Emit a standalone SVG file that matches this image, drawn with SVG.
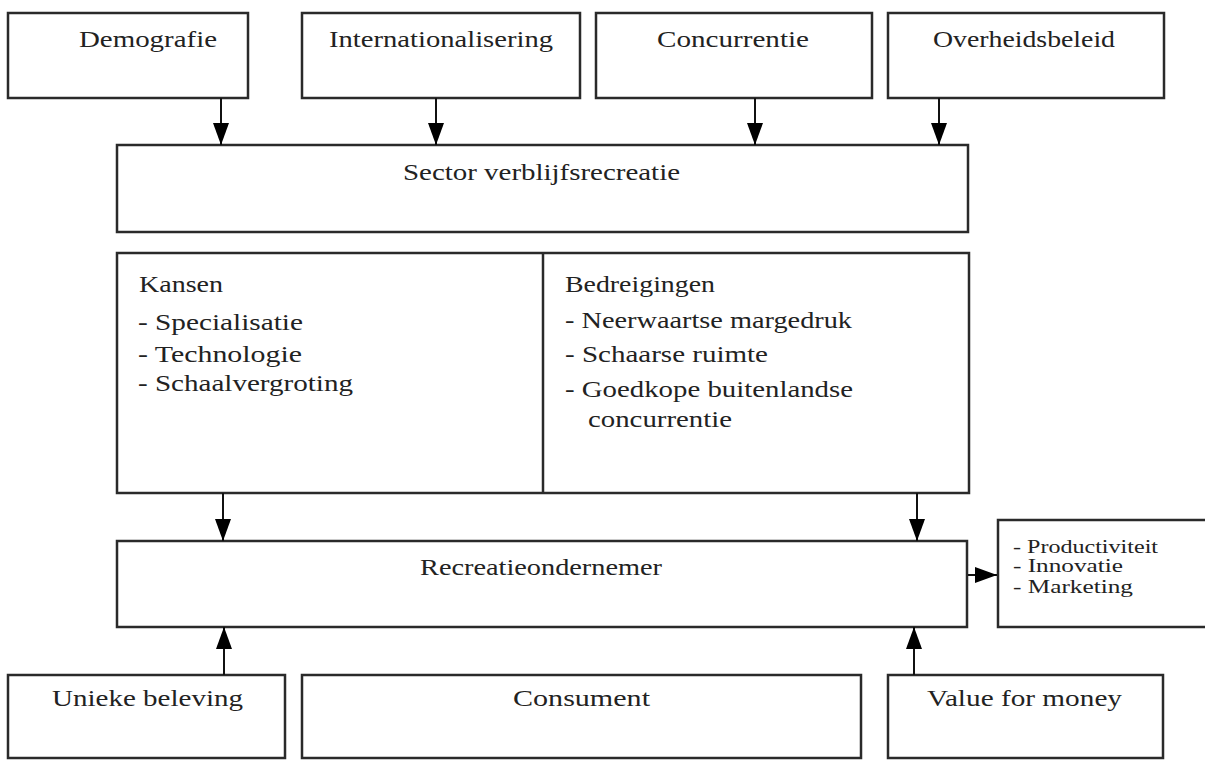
<svg xmlns="http://www.w3.org/2000/svg" width="1205" height="760" viewBox="0 0 1205 760">
<style>
.box{fill:#fff;stroke:#2a2a2a;stroke-width:2.5}
.t{font-family:"Liberation Serif","Times New Roman",serif;font-size:24px;fill:#222}
.s{font-family:"Liberation Serif","Times New Roman",serif;font-size:18px;fill:#222}
.c{stroke:#111;stroke-width:2;fill:none;marker-end:url(#ah)}
</style>
<defs>
<marker id="ah" viewBox="0 0 22 16" refX="22" refY="8" markerWidth="22" markerHeight="16" markerUnits="userSpaceOnUse" orient="auto">
<path d="M0,0 L22,8 L0,16 z" fill="#000"/>
</marker>
</defs>
<rect width="1205" height="760" fill="#fff"/>
<g id="demografie"><rect class="box" x="8" y="13" width="240" height="85"/><text class="t" x="79" y="47" textLength="138" lengthAdjust="spacingAndGlyphs">Demografie</text></g>
<g id="internationalisering"><rect class="box" x="302" y="13" width="278" height="85"/><text class="t" x="329" y="47" textLength="224" lengthAdjust="spacingAndGlyphs">Internationalisering</text></g>
<g id="concurrentie"><rect class="box" x="596" y="13" width="276" height="85"/><text class="t" x="657" y="47" textLength="152" lengthAdjust="spacingAndGlyphs">Concurrentie</text></g>
<g id="overheidsbeleid"><rect class="box" x="888" y="13" width="276" height="85"/><text class="t" x="933" y="47" textLength="182" lengthAdjust="spacingAndGlyphs">Overheidsbeleid</text></g>
<g id="sector"><rect class="box" x="117" y="145" width="851" height="87"/><text class="t" x="403" y="180" textLength="277" lengthAdjust="spacingAndGlyphs">Sector verblijfsrecreatie</text></g>
<g id="kansen-bedreigingen"><rect class="box" x="117" y="253" width="852" height="240"/><line x1="543" y1="253" x2="543" y2="493" stroke="#2a2a2a" stroke-width="2.5"/>
<text class="t" x="139" y="292" textLength="84" lengthAdjust="spacingAndGlyphs">Kansen</text>
<text class="t" x="138" y="330" textLength="165" lengthAdjust="spacingAndGlyphs">- Specialisatie</text>
<text class="t" x="138" y="362" textLength="164" lengthAdjust="spacingAndGlyphs">- Technologie</text>
<text class="t" x="138" y="391" textLength="215" lengthAdjust="spacingAndGlyphs">- Schaalvergroting</text>
<text class="t" x="565" y="292" textLength="150" lengthAdjust="spacingAndGlyphs">Bedreigingen</text>
<text class="t" x="565" y="328" textLength="287" lengthAdjust="spacingAndGlyphs">- Neerwaartse margedruk</text>
<text class="t" x="565" y="362" textLength="203" lengthAdjust="spacingAndGlyphs">- Schaarse ruimte</text>
<text class="t" x="565" y="397" textLength="288" lengthAdjust="spacingAndGlyphs">- Goedkope buitenlandse</text>
<text class="t" x="588" y="427" textLength="144" lengthAdjust="spacingAndGlyphs">concurrentie</text>
</g>
<g id="recreatieondernemer"><rect class="box" x="117" y="541" width="850" height="86"/><text class="t" x="420" y="575" textLength="242" lengthAdjust="spacingAndGlyphs">Recreatieondernemer</text></g>
<g id="factoren"><rect class="box" x="998" y="520" width="210" height="107"/>
<text class="s" x="1013" y="553" textLength="145" lengthAdjust="spacingAndGlyphs">- Productiviteit</text>
<text class="s" x="1013" y="572" textLength="110" lengthAdjust="spacingAndGlyphs">- Innovatie</text>
<text class="s" x="1013" y="593" textLength="120" lengthAdjust="spacingAndGlyphs">- Marketing</text>
</g>
<g id="unieke-beleving"><rect class="box" x="8" y="675" width="277" height="83"/><text class="t" x="52" y="706" textLength="191" lengthAdjust="spacingAndGlyphs">Unieke beleving</text></g>
<g id="consument"><rect class="box" x="302" y="675" width="559" height="83"/><text class="t" x="513" y="706" textLength="137" lengthAdjust="spacingAndGlyphs">Consument</text></g>
<g id="value-for-money"><rect class="box" x="888" y="675" width="275" height="83"/><text class="t" x="927" y="706" textLength="195" lengthAdjust="spacingAndGlyphs">Value for money</text></g>
<g id="connectors">
<line class="c" x1="221" y1="98" x2="221" y2="145"/>
<line class="c" x1="436" y1="98" x2="436" y2="145"/>
<line class="c" x1="755" y1="98" x2="755" y2="145"/>
<line class="c" x1="939" y1="98" x2="939" y2="145"/>
<line class="c" x1="223" y1="493" x2="223" y2="541"/>
<line class="c" x1="917" y1="493" x2="917" y2="541"/>
<line class="c" x1="224" y1="675" x2="224" y2="627"/>
<line class="c" x1="914" y1="675" x2="914" y2="627"/>
<line class="c" x1="968" y1="575" x2="997" y2="575"/>
</g>
</svg>
